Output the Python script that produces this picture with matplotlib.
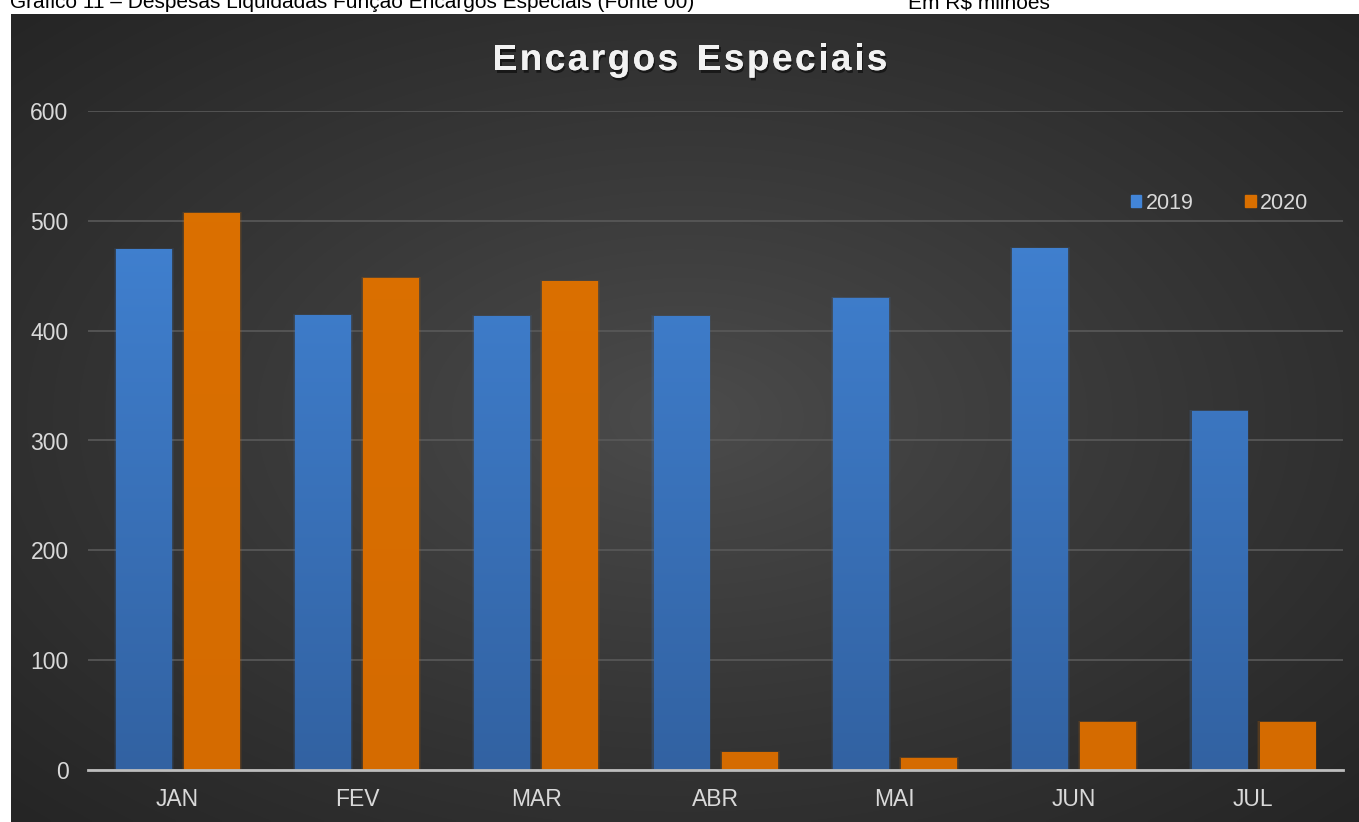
import numpy as np
import matplotlib
matplotlib.use("Agg")
import matplotlib.pyplot as plt
from matplotlib.colors import LinearSegmentedColormap
import matplotlib.patheffects as pe

plt.rcParams['font.family'] = ['Liberation Sans', 'DejaVu Sans']

months = ["JAN", "FEV", "MAR", "ABR", "MAI", "JUN", "JUL"]
series_names = ["2019", "2020"]
values_2019 = [474, 414, 413, 413, 430, 475, 327]
values_2020 = [507, 448, 445, 16, 11, 44, 44]
y_ticks = [0, 100, 200, 300, 400, 500, 600]

W, H = 1359, 822
fig = plt.figure(figsize=(W / 100, H / 100), dpi=100)
fig.patch.set_facecolor("white")

# Dark panel with a radial gradient, lighter towards the centre
bg = fig.add_axes([11 / W, 0, (W - 11) / W, (H - 14) / H], zorder=0)
bg.set_axis_off()
nx, ny = 400, 240
xx, yy = np.meshgrid(np.linspace(-1, 1, nx), np.linspace(-1, 1, ny))
r = np.sqrt(xx ** 2 + yy ** 2) / np.sqrt(2)
shade = 0x4c / 255 - (0x4c - 0x25) / 255 * np.clip(r, 0, 1) ** 0.9
bg.imshow(np.dstack([shade, shade, shade]), aspect="auto", extent=[0, 1, 0, 1],
          interpolation="bilinear")
bg.set_xlim(0, 1)
bg.set_ylim(0, 1)

# Header line above the panel
fig.text(10 / W, 1 - 8 / H, "Gráfico 11 – Despesas Liquidadas Função Encargos Especiais (Fonte 00)",
         fontsize=15, color="black", ha="left", va="baseline")
fig.text(908 / W, 1 - 8 / H, "Em R$ milhões", fontsize=15, color="black",
         ha="left", va="baseline")

left_px, right_px, top_px, bottom_px = 88, 1343, 111, 770
ax = fig.add_axes([left_px / W, (H - bottom_px) / H, (right_px - left_px) / W,
                   (bottom_px - top_px) / H], zorder=2)
ax.set_facecolor("none")

x = np.arange(len(months))
bw = 0.31
off = 0.19

blue_cmap = LinearSegmentedColormap.from_list("b", ["#3262a2", "#4387da"])
orange_cmap = LinearSegmentedColormap.from_list("o", ["#d56b00", "#dc7100"])


def gradient_bars(positions, heights, cmap, edge):
    bars = ax.bar(positions, heights, width=bw, color="none", edgecolor="none", zorder=3)
    grad = np.linspace(0, 1, 256).reshape(-1, 1)
    for b in bars:
        x0, w, h = b.get_x(), b.get_width(), b.get_height()
        # soft glow behind the bar
        for k, a in [(0.012, 0.10), (0.007, 0.15)]:
            ax.add_patch(plt.Rectangle((x0 - k, 0), w + 2 * k, h + k * 600 / 7,
                                       facecolor=edge, alpha=a, edgecolor="none", zorder=2.5))
        im = ax.imshow(grad, cmap=cmap, aspect="auto", origin="lower",
                       extent=[x0, x0 + w, 0, 600], vmin=0, vmax=1, zorder=3,
                       interpolation="bilinear")
        im.set_clip_path(b)
    return bars


gradient_bars(x - off, values_2019, blue_cmap, "#3f7fd0")
gradient_bars(x + off, values_2020, orange_cmap, "#d96f00")

ax.set_xlim(-0.5, len(months) - 0.5)
ax.set_ylim(0, 600)
ax.set_yticks(y_ticks)
ax.set_xticks(x)
ax.set_xticklabels(months)
ax.tick_params(axis="both", length=0, colors="#d9d9d9", labelsize=16.5)
ax.tick_params(axis="y", pad=14)
ax.tick_params(axis="x", pad=13)
ax.grid(axis="y", color="#595959", linewidth=1.2, zorder=1)
ax.set_axisbelow(True)
for s in ["left", "right", "top"]:
    ax.spines[s].set_visible(False)
ax.spines["bottom"].set_color("#bdbdbd")
ax.spines["bottom"].set_linewidth(2)
ax.spines["bottom"].set_zorder(4)

# Legend
handles = [plt.Rectangle((0, 0), 1, 1, color="#4285d8"),
           plt.Rectangle((0, 0), 1, 1, color="#d96f00")]
leg = ax.legend(handles, series_names, loc="upper right", bbox_to_anchor=(0.988, 0.905),
                ncol=2, frameon=False, fontsize=15.5, handlelength=0.5, handleheight=0.5,
                handletextpad=0.2, columnspacing=2.4, labelcolor="#d9d9d9")

# Title with extra letter spacing and a soft shadow
title = "Encargos Especiais"
fig.canvas.draw()
renderer = fig.canvas.get_renderer()
props = dict(fontsize=26.5, fontweight="bold", color="#f2f2f2")
widths = []
for ch in title:
    t = fig.text(0, 0, ch if ch != " " else "n", **props)
    bb = t.get_window_extent(renderer)
    widths.append(bb.width if ch != " " else bb.width * 0.6)
    t.remove()
spacing = 2.6
total = sum(widths) + spacing * (len(title) - 1)
xpos = 690 - total / 2
ybase = H - 70
for ch, w in zip(title, widths):
    if ch != " ":
        fig.text(xpos / W, ybase / H, ch, ha="left", va="baseline",
                 path_effects=[pe.withSimplePatchShadow(offset=(1, -2), shadow_rgbFace="black", alpha=0.5),
                               pe.Normal()],
                 **props)
    xpos += w + spacing

fig.savefig("out.png", dpi=100, facecolor=fig.get_facecolor())
